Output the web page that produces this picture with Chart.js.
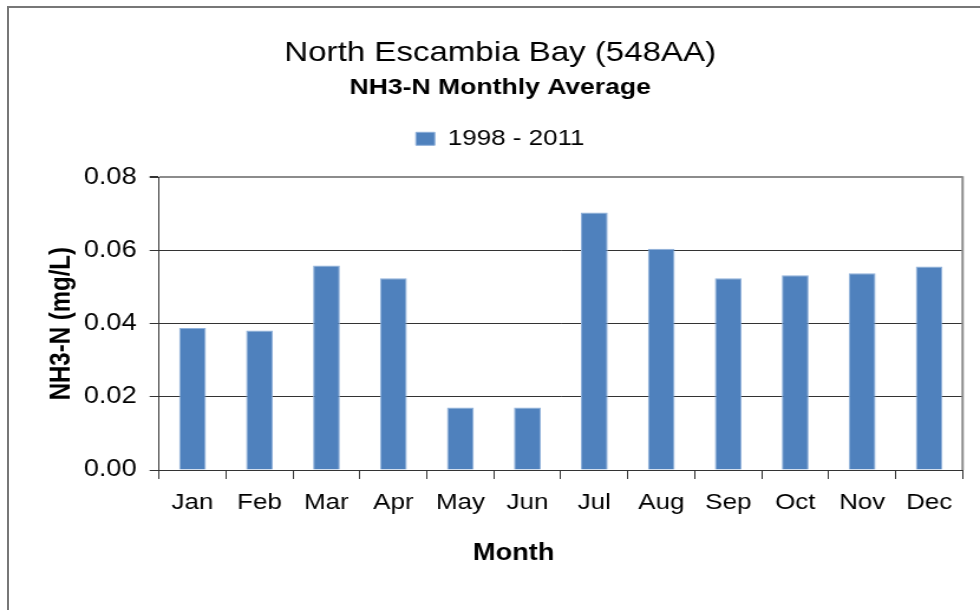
<!DOCTYPE html>
<html>
<head>
<meta charset="utf-8">
<script src="https://cdn.jsdelivr.net/npm/chart.js@4/dist/chart.umd.min.js"></script>
<style>
  body { margin: 0; background: #fff; overflow: hidden; width: 980px; height: 610px; position: relative; }
  #frame { position: absolute; left: 7px; top: 6px; width: 1000px; height: 700px; border: 2px solid #777; }
  #wrap { position: absolute; left: 0; top: 0; width: 830px; height: 610px; transform: scaleX(1.1807); transform-origin: 0 0; }
</style>
</head>
<body>
<div id="frame"></div>
<div id="wrap"><canvas id="myChart"></canvas></div>
<script>
// values
const months = ['Jan', 'Feb', 'Mar', 'Apr', 'May', 'Jun', 'Jul', 'Aug', 'Sep', 'Oct', 'Nov', 'Dec'];
const nh3Avg = [0.0388, 0.0381, 0.0559, 0.0524, 0.0171, 0.0171, 0.0704, 0.0605, 0.0524, 0.0532, 0.0538, 0.0556];
const seriesName = '1998 - 2011';
const yTicks = [0, 0.02, 0.04, 0.06, 0.08];
const xTitle = 'Month';

const FONT = "'Liberation Sans', Arial, sans-serif";

// gray right edge of the plot frame + the x axis title (sits a bit left of centre in the original)
const extras = {
  id: 'extras',
  afterDraw(chart) {
    const a = chart.chartArea, c = chart.ctx;
    c.save();
    c.strokeStyle = '#8c8c8c';
    c.lineWidth = 2;
    c.beginPath();
    c.moveTo(a.right, a.top - 1);
    c.lineTo(a.right, a.bottom);
    c.stroke();

    c.fillStyle = '#000';
    c.font = "bold 23px " + FONT;
    c.textAlign = 'center';
    c.textBaseline = 'middle';
    c.fillText(xTitle, (a.left + a.right) / 2 - 40, 554);
    c.restore();
  }
};

const config = {
  type: 'bar',
  data: {
    labels: months,
    datasets: [{
      label: seriesName,
      data: nh3Avg,
      backgroundColor: '#4f81bd',
      borderColor: '#8eb0da',
      borderWidth: 1,
      categoryPercentage: 1,
      barPercentage: 0.4
    }]
  },
  options: {
    responsive: true,
    maintainAspectRatio: false,
    animation: false,
    layout: { padding: { top: 0, left: 32, right: 14.7, bottom: 0 } },
    plugins: {
      tooltip: { enabled: false },
      title: {
        display: true,
        text: 'North Escambia Bay (548AA)',
        color: '#000',
        font: { family: FONT, size: 28, weight: 'normal', lineHeight: 1.2 },
        padding: { top: 36, bottom: 0 }
      },
      subtitle: {
        display: true,
        text: 'NH3-N Monthly Average',
        color: '#000',
        font: { family: FONT, size: 22.5, weight: 'bold', lineHeight: 1.2 },
        padding: { top: 4.4, bottom: 16.8 }
      },
      legend: {
        display: true,
        labels: {
          color: '#000',
          font: { family: FONT, size: 22 },
          boxWidth: 16,
          boxHeight: 13,
          padding: 10
        }
      }
    },
    scales: {
      gap: {
        type: 'category',
        position: 'top',
        display: true,
        grid: { display: false },
        border: { display: false },
        ticks: { display: false },
        afterFit: s => { s.height = 17.5; }
      },
      x: {
        grid: { drawOnChartArea: false, drawTicks: true, tickLength: 9, color: '#333', offset: true },
        border: { color: '#333', width: 1 },
        ticks: { color: '#000', padding: 11, font: { family: FONT, size: 22 } },
        afterFit: s => { s.height = 140; }
      },
      y: {
        min: 0,
        max: 0.08,
        afterBuildTicks: s => { s.ticks = yTicks.map(v => ({ value: v })); },
        grid: {
          color: c => (c.tick && c.tick.value === 0.08 ? '#8c8c8c' : '#333'),
          lineWidth: c => (c.tick && c.tick.value === 0.08 ? 2 : 1),
          tickColor: '#333',
          tickLength: 8
        },
        border: { color: '#333', width: 1 },
        ticks: {
          color: '#000',
          padding: 11,
          font: { family: FONT, size: 23 },
          callback: v => Number(v).toFixed(2)
        },
        title: {
          display: true,
          text: 'NH3-N (mg/L)',
          color: '#000',
          font: { family: FONT, size: 24, weight: 'bold', lineHeight: 1.2 },
          padding: { top: 6, bottom: 0 }
        },
        afterFit: s => { s.width = 102.7; }
      }
    }
  },
  plugins: [extras]
};

let ctx = document.getElementById('myChart').getContext('2d');
let myChart = new Chart(ctx, config);
</script>
</body>
</html>
